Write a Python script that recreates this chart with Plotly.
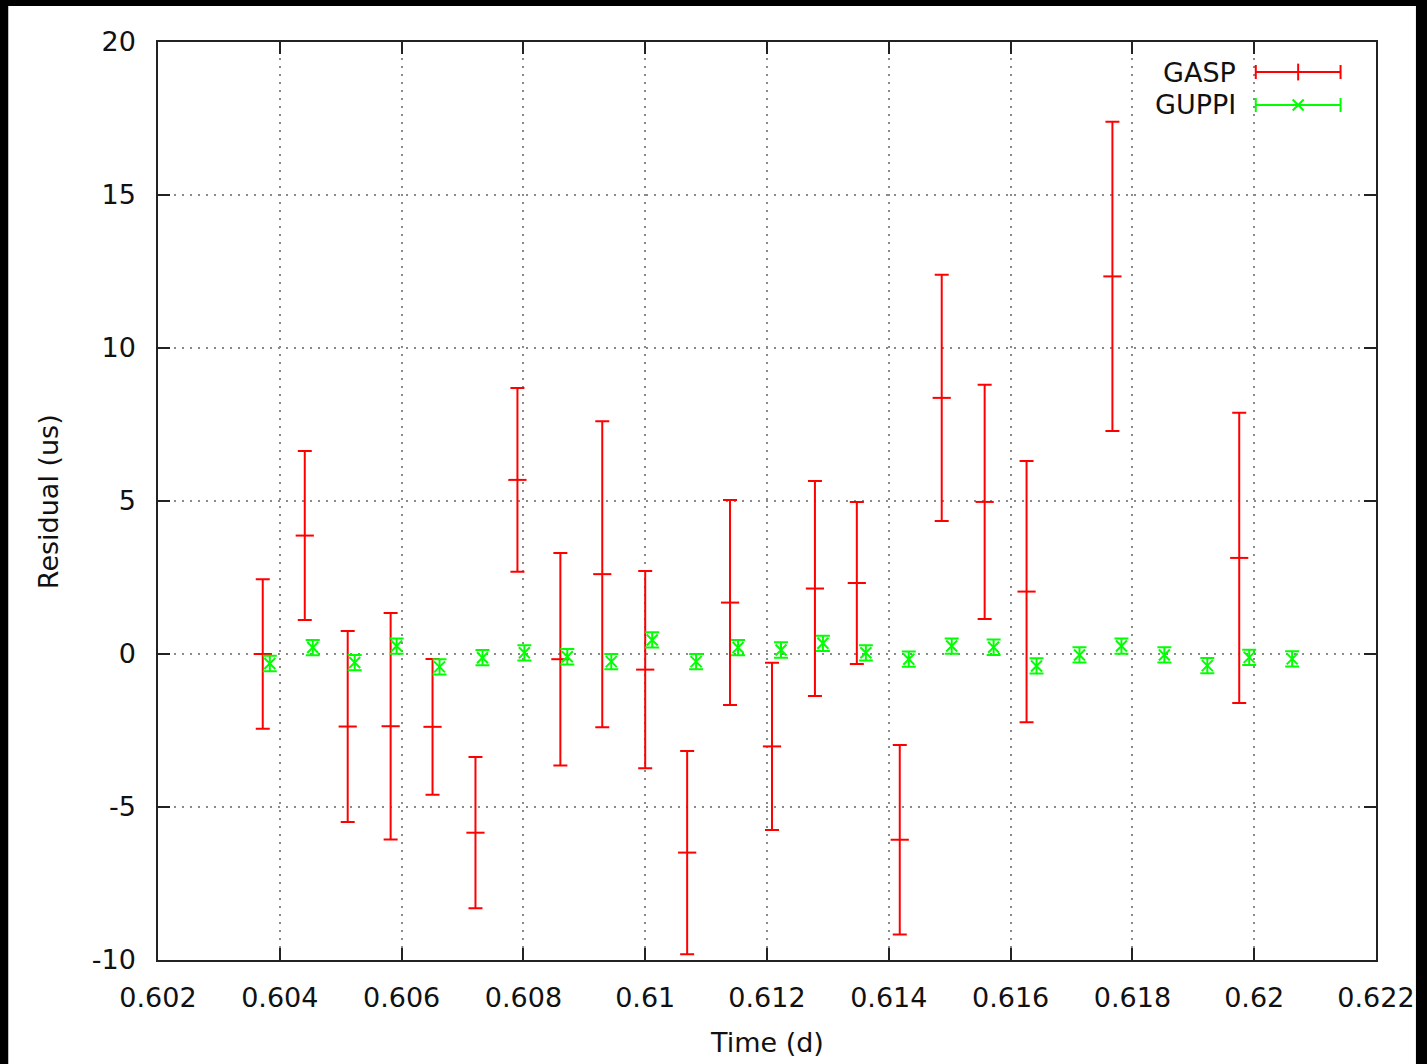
import plotly.graph_objects as go

# ---- data ----
gasp_t = [0.60372, 0.60441, 0.605115, 0.60582, 0.606508, 0.607213, 0.607902,
          0.608607, 0.609295, 0.61, 0.610689, 0.611393, 0.612082, 0.612787,
          0.613475, 0.61418, 0.614869, 0.615574, 0.616262, 0.617672, 0.619754]
gasp_res = [0.00, 3.87, -2.37, -2.36, -2.38, -5.84, 5.69, -0.17, 2.61, -0.51,
            -6.49, 1.68, -3.02, 2.14, 2.32, -6.07, 8.37, 4.97, 2.04, 12.34, 3.14]
gasp_err = [2.44, 2.76, 3.12, 3.70, 2.22, 2.47, 3.00, 3.47, 5.00, 3.22,
            3.32, 3.35, 2.73, 3.51, 2.65, 3.10, 4.02, 3.83, 4.27, 5.05, 4.74]

guppi_t = [0.603836, 0.604541, 0.60523, 0.605918, 0.606623, 0.607328, 0.608016,
           0.608721, 0.609443, 0.610115, 0.610836, 0.611525, 0.61223, 0.612918,
           0.613623, 0.614328, 0.615033, 0.615721, 0.616426, 0.617131, 0.61782,
           0.618525, 0.61923, 0.619918, 0.620623]
guppi_res = [-0.31, 0.21, -0.28, 0.26, -0.42, -0.12, 0.04, -0.09, -0.25, 0.46,
             -0.25, 0.21, 0.13, 0.35, 0.04, -0.17, 0.26, 0.22, -0.39, -0.03,
             0.26, -0.03, -0.38, -0.11, -0.16]
guppi_err = [0.25] * 25

x_ticks = [0.602, 0.604, 0.606, 0.608, 0.61, 0.612, 0.614, 0.616, 0.618, 0.62, 0.622]
x_tick_text = ["0.602", "0.604", "0.606", "0.608", "0.61", "0.612", "0.614",
               "0.616", "0.618", "0.62", "0.622"]
y_ticks = [-10, -5, 0, 5, 10, 15, 20]
y_tick_text = ["-10", "-5", "0", "5", "10", "15", "20"]

series_names = ["GASP", "GUPPI"]
RED = "#ff0000"
GREEN = "#00ff00"
FONT = "DejaVu Sans"
FS = 27

fig = go.Figure()

fig.add_trace(go.Scatter(
    x=gasp_t, y=gasp_res, mode="markers", name=series_names[0],
    marker=dict(symbol="line-ew", size=13, color=RED, line=dict(color=RED, width=2)),
    error_y=dict(type="data", array=gasp_err, color=RED, thickness=2, width=7),
    showlegend=False, cliponaxis=False,
))
fig.add_trace(go.Scatter(
    x=guppi_t, y=guppi_res, mode="markers", name=series_names[1],
    marker=dict(symbol="x-thin", size=11, color=GREEN, line=dict(color=GREEN, width=2)),
    error_y=dict(type="data", array=guppi_err, color=GREEN, thickness=2, width=7),
    showlegend=False,
))

# legend samples on an overlay axis spanning the plot area (0..1)
fig.add_trace(go.Scatter(
    x=[0.9361], y=[0.9673], xaxis="x2", yaxis="y2", mode="markers",
    marker=dict(symbol="line-ns", size=12, color=RED, line=dict(color=RED, width=2)),
    error_x=dict(type="constant", value=0.0348, color=RED, thickness=2, width=7),
    showlegend=False, hoverinfo="skip",
))
fig.add_trace(go.Scatter(
    x=[0.9361], y=[0.9314], xaxis="x2", yaxis="y2", mode="markers",
    marker=dict(symbol="x-thin", size=11, color=GREEN, line=dict(color=GREEN, width=2)),
    error_x=dict(type="constant", value=0.0348, color=GREEN, thickness=2, width=7),
    showlegend=False, hoverinfo="skip",
))

axis_common = dict(
    showline=True, linecolor="#222222", linewidth=1.5, mirror="ticks",
    ticks="inside", ticklen=12, tickwidth=1.5, tickcolor="#222222",
    showgrid=True, gridcolor="#8a8a8a", gridwidth=1.5, griddash="2px,6px",
    zeroline=False, tickfont=dict(family=FONT, size=FS, color="#111111"),
)

fig.update_layout(
    width=1427, height=1064,
    margin=dict(l=158, r=49, t=42, b=104),
    paper_bgcolor="#000000", plot_bgcolor="#ffffff",
    font=dict(family=FONT, size=FS, color="#111111"),
    showlegend=False,
    xaxis=dict(range=[0.602, 0.622], tickvals=x_ticks, ticktext=x_tick_text,
               ticklabelstandoff=13, **axis_common),
    yaxis=dict(range=[-10, 20], tickvals=y_ticks, ticktext=y_tick_text,
               ticklabelstandoff=15, **axis_common),
    xaxis2=dict(range=[0, 1], overlaying="x", visible=False),
    yaxis2=dict(range=[0, 1], overlaying="y", visible=False),
    shapes=[dict(type="rect", xref="paper", yref="paper",
                 x0=-0.12295, x1=1.03279, y0=-0.13, y1=1.03922,
                 fillcolor="#ffffff", line=dict(width=0), layer="below")],
    annotations=[
        dict(text="Time (d)", xref="paper", yref="paper", x=0.5, y=-0.0904,
             showarrow=False, xanchor="center", yanchor="middle",
             font=dict(family=FONT, size=FS, color="#111111")),
        dict(text="Residual (us)", xref="paper", yref="paper", x=-0.0902, y=0.4989,
             showarrow=False, xanchor="center", yanchor="middle", textangle=-90,
             font=dict(family=FONT, size=FS, color="#111111")),
        dict(text=series_names[0], xref="paper", yref="paper", x=0.8869, y=0.9673,
             showarrow=False, xanchor="right", yanchor="middle",
             font=dict(family=FONT, size=FS, color="#111111")),
        dict(text=series_names[1], xref="paper", yref="paper", x=0.8869, y=0.9314,
             showarrow=False, xanchor="right", yanchor="middle",
             font=dict(family=FONT, size=FS, color="#111111")),
    ],
)

fig.write_html("out.html")
